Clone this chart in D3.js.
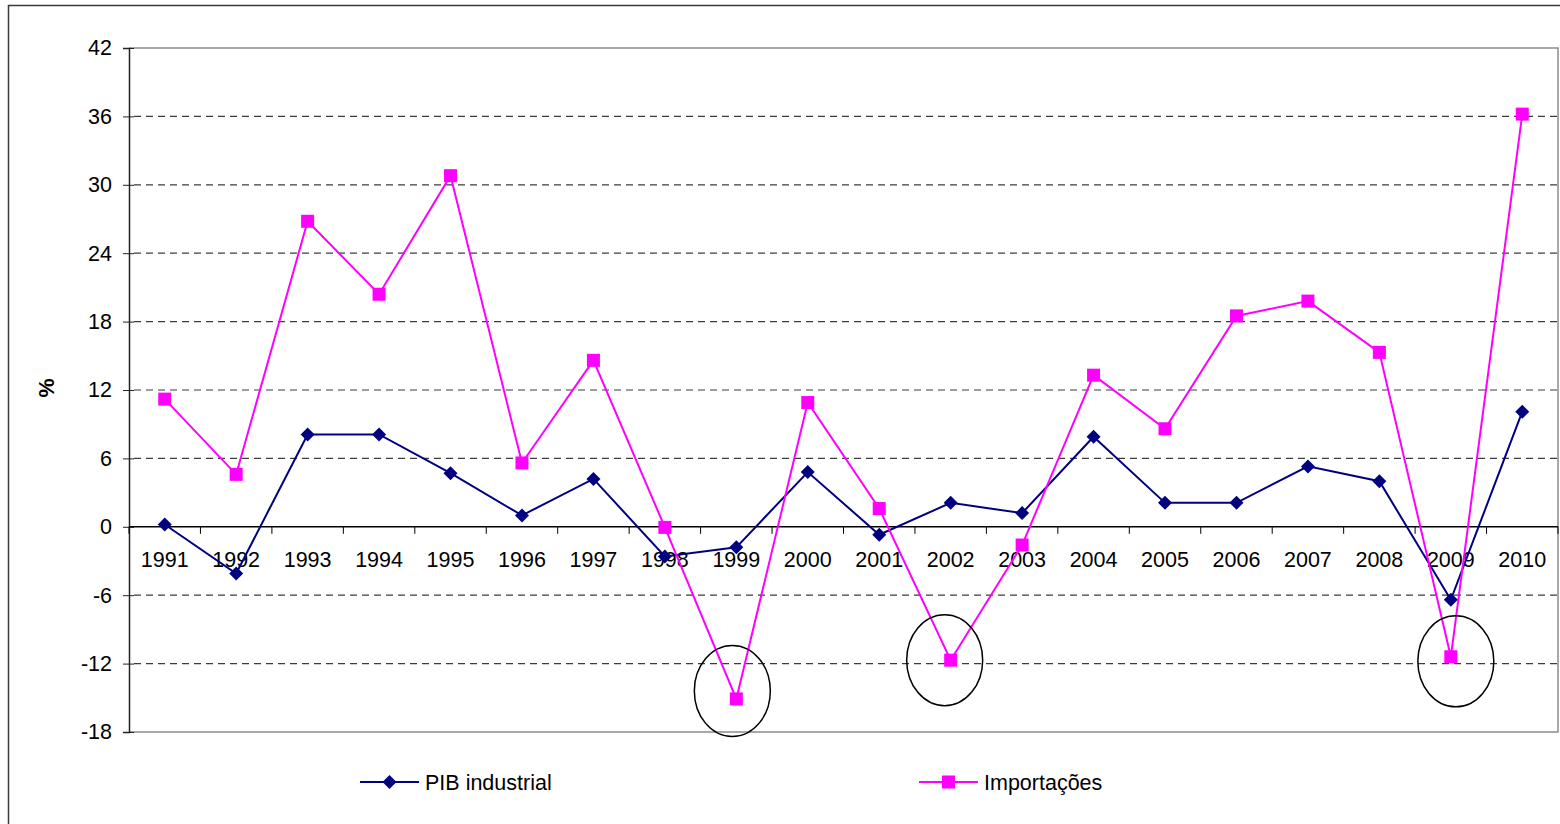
<!DOCTYPE html>
<html><head><meta charset="utf-8">
<script src="https://cdn.jsdelivr.net/npm/d3@7"></script>
<style>body{margin:0;background:#fff;}svg{display:block;font-family:"Liberation Sans",Arial,sans-serif;}</style>
</head><body>
<svg id="c" width="1560" height="824"></svg>
<script>
const years = ["1991","1992","1993","1994","1995","1996","1997","1998","1999","2000","2001","2002","2003","2004","2005","2006","2007","2008","2009","2010"];
const pibIndustrial = [0.2,-4.1,8.1,8.1,4.7,1.0,4.2,-2.6,-1.8,4.8,-0.7,2.1,1.2,7.9,2.1,2.1,5.3,4.0,-6.4,10.1];
const importacoes = [11.2,4.6,26.8,20.4,30.8,5.6,14.6,-0.05,-15.1,10.9,1.6,-11.7,-1.6,13.3,8.6,18.5,19.8,15.3,-11.4,36.2];
const yTicks = [-18,-12,-6,0,6,12,18,24,30,36,42];
const seriesNames = ["PIB industrial","Importações"];
const highlights = [{year:"1999",value:-14.4,dx:-4},{year:"2002",value:-11.7,dx:-6},{year:"2009",value:-11.8,dx:5}];

const svg = d3.select("#c");
const L=129, R=1558, T=48, B=732;
const FS = 21.5;
const x = d3.scalePoint().domain(years).range([L,R]).padding(0.5);
const step = x.step();
const y = d3.scaleLinear().domain([-18,42]).range([B,T]);

// outer border
svg.append("rect").attr("x",8.5).attr("y",5.5).attr("width",1600).attr("height",900)
  .attr("fill","none").attr("stroke","#3a3a3a").attr("stroke-width",1.5);

// grid
svg.append("g").selectAll("line").data(yTicks.filter(d=>d!==0&&d!==42&&d!==-18)).join("line")
  .attr("x1",L+5).attr("x2",R).attr("y1",d=>y(d)).attr("y2",d=>y(d))
  .attr("stroke","#3c3c3c").attr("stroke-width",1.2).attr("stroke-dasharray","7,5");

// plot border (gray)
svg.append("path").attr("d",`M${L},${y(42)}H${R}V${y(-18)}H${L}`)
  .attr("fill","none").attr("stroke","#8c8c8c").attr("stroke-width",1.5);

// y axis
const yAxis = d3.axisLeft(y).tickValues(yTicks).tickSize(6).tickPadding(11).tickFormat(d=>String(d));
const gy = svg.append("g").attr("transform",`translate(${L},0)`).call(yAxis);
gy.select(".domain").attr("stroke","#222").attr("stroke-width",1.5);
gy.selectAll(".tick line").attr("stroke","#222").attr("x2",-6).attr("x1",5);
gy.selectAll("text").attr("font-size",FS).attr("fill","#000").attr("font-family","Liberation Sans, Arial, sans-serif");

// x axis at zero
const gx = svg.append("g").attr("transform",`translate(0,${y(0)})`);
gx.append("line").attr("x1",L).attr("x2",R).attr("stroke","#000").attr("stroke-width",1.5);
const bounds = d3.range(years.length+1).map(i=>L+i*step);
gx.selectAll("line.tk").data(bounds).join("line").attr("class","tk")
  .attr("x1",d=>d).attr("x2",d=>d).attr("y1",0).attr("y2",7).attr("stroke","#000");
gx.selectAll("text").data(years).join("text")
  .attr("x",d=>x(d)).attr("y",40).attr("text-anchor","middle").attr("font-size",FS).text(d=>d);

// y label
svg.append("text").attr("transform",`translate(54,388) rotate(-90)`).attr("text-anchor","middle")
  .attr("font-size",FS).attr("font-weight","bold").text("%");

const line = d3.line().x((d,i)=>x(years[i])).y(d=>y(d));
const colors = ["#000080","#ff00ff"];
// lines
svg.append("path").datum(pibIndustrial).attr("d",line).attr("fill","none").attr("stroke",colors[0]).attr("stroke-width",2);
svg.append("path").datum(importacoes).attr("d",line).attr("fill","none").attr("stroke",colors[1]).attr("stroke-width",2);

const diamond = d3.symbol().type(d3.symbolSquare).size(98);
svg.append("g").selectAll("path").data(pibIndustrial).join("path")
  .attr("d",diamond).attr("transform",(d,i)=>`translate(${x(years[i])},${y(d)}) rotate(45)`).attr("fill",colors[0]);
svg.append("g").selectAll("rect").data(importacoes).join("rect")
  .attr("x",(d,i)=>x(years[i])-6.5).attr("y",d=>y(d)-6.5).attr("width",13).attr("height",13).attr("fill",colors[1]);

// highlight ellipses
svg.append("g").selectAll("ellipse").data(highlights).join("ellipse")
  .attr("cx",d=>x(d.year)+d.dx).attr("cy",d=>y(d.value)).attr("rx",38).attr("ry",45.5)
  .attr("fill","none").attr("stroke","#000").attr("stroke-width",1.5);

// legend
const leg = [{x:360,name:seriesNames[0],c:colors[0],t:"d"},{x:919,name:seriesNames[1],c:colors[1],t:"s"}];
const lg = svg.append("g").selectAll("g").data(leg).join("g").attr("transform",d=>`translate(${d.x},782)`);
lg.append("line").attr("x1",0).attr("x2",59).attr("stroke",d=>d.c).attr("stroke-width",2);
lg.each(function(d){
  const g=d3.select(this);
  if(d.t==="d") g.append("path").attr("d",diamond).attr("transform","translate(29.5,0) rotate(45)").attr("fill",d.c);
  else g.append("rect").attr("x",23).attr("y",-6.5).attr("width",13).attr("height",13).attr("fill",d.c);
});
lg.append("text").attr("x",65).attr("y",7.5).attr("font-size",FS).text(d=>d.name);
</script>
</body></html>
